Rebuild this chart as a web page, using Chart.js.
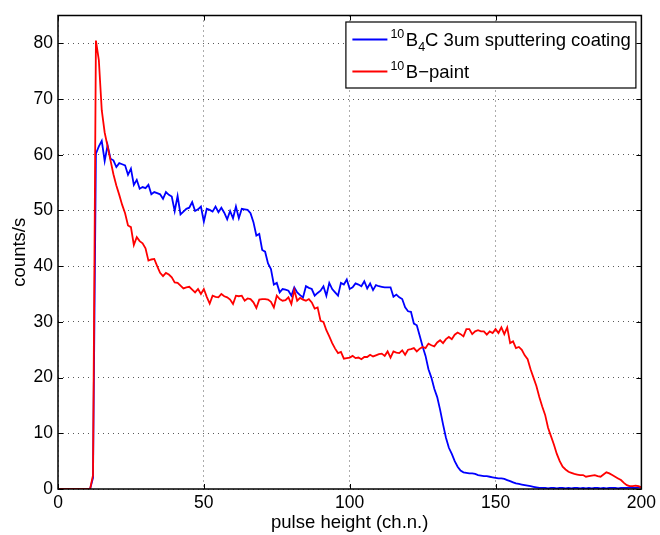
<!DOCTYPE html>
<html>
<head>
<meta charset="utf-8">
<script src="https://cdn.jsdelivr.net/npm/chart.js@4.4.1/dist/chart.umd.min.js"></script>
<style>
  html, body { margin: 0; padding: 0; background: #fff; }
  #wrap { width: 660px; height: 535px; }
</style>
</head>
<body>
<div id="wrap"><canvas id="spectrum" width="660" height="535"></canvas></div>
<script>
const FONT = '"Liberation Sans", Arial, Helvetica, sans-serif';

// MCA channel numbers (pulse height)
const channels = Array.from({ length: 201 }, (_, i) => i);

// counts/s per channel - 10B4C 3um sputtered coating
const b4cCounts = [
  0, 0, 0, 0, 0, 0, 0, 0, 0, 0,
  0, 0, 2, 60.2, 61.5, 62.5, 58.9, 61.7, 59.3, 59,
  57.8, 58.5, 58.3, 58.1, 56.4, 57.5, 54.6, 55.5, 53.9, 54.2,
  54, 54.6, 52.9, 53.3, 53.1, 52.9, 52.1, 53.3, 52.8, 52.5,
  49.9, 52.6, 49.3, 49.8, 50.3, 50.5, 51.5, 49.9, 50.2, 50.7,
  48, 50.3, 50.1, 49.8, 50.7, 49.7, 50.5, 49.6, 48.4, 49.9,
  48.6, 50.7, 48.6, 50.3, 50.2, 50.1, 49.5, 47.9, 45.5, 45.8,
  42.9, 42.6, 40.5, 39.5, 36.7, 37, 35.3, 35.9, 35.8, 35.6,
  34.7, 36.2, 35.3, 34.8, 34.4, 36.4, 36.1, 35.9, 34.7, 35.2,
  35.6, 36.4, 34.7, 37, 35.9, 35.3, 34.7, 37, 36.7, 37.6,
  35.9, 36.2, 36.9, 36.7, 36.4, 37.3, 36, 36.9, 35.7, 36.6,
  36.4, 36.3, 36.2, 36.2, 36.2, 34.5, 34.9, 34.4, 34.1, 32.6,
  31.9, 31.8, 29.7, 29.4, 27.5, 25.6, 23.9, 21.5, 20, 18,
  16.5, 14.2, 11.6, 9.2, 7.4, 6.3, 5.0, 4.0, 3.3, 3.0,
  2.9, 2.8, 2.8, 2.7, 2.5, 2.4, 2.3, 2.3, 2.2, 2.1,
  2.0, 1.9, 1.9, 1.8, 1.6, 1.4, 1.2, 1.0, 0.9, 0.8,
  0.7, 0.6, 0.5, 0.4, 0.3, 0.2, 0.2, 0.2, 0.1, 0.2,
  0.2, 0.1, 0.2, 0.2, 0.1, 0.2, 0.1, 0.2, 0.2, 0.1,
  0.2, 0.1, 0.2, 0.1, 0.2, 0.2, 0.1, 0.2, 0.1, 0.2,
  0.2, 0.2, 0.1, 0.2, 0.2, 0.2, 0.3, 0.2, 0.2, 0.3,
  0.3
];

// counts/s per channel - 10B paint
const paintCounts = [
  0, 0, 0, 0, 0, 0, 0, 0, 0, 0,
  0, 0, 2.5, 80.5, 77, 68, 64, 61.5, 59, 56.5,
  54.5, 52.8, 51, 49.5, 47.3, 47, 43.8, 45.2, 44.5, 44.1,
  43.2, 41, 41.2, 41.3, 40, 38.8, 38.2, 38.8, 38.5, 38,
  37.1, 37, 36.5, 36, 36.2, 36.3, 35.8, 35.3, 35.9, 35,
  35.9, 34.5, 33.3, 34.7, 34.5, 34.4, 35, 34.6, 34.4, 34,
  33.2, 34.7, 34.6, 34.7, 33.8, 34.2, 34.1, 33.5, 32.5, 34,
  34.1, 34.1, 34, 33.6, 32.6, 34.7, 34.1, 33.8, 33.9, 34.4,
  33.2, 35.7, 33.8, 34.3, 34, 33.8, 34.1, 33.5, 32.4, 32.6,
  30.2, 30, 28.5, 27.4, 26.2, 25.2, 24.4, 24.6, 23.4, 23.5,
  23.6, 23.9, 23.5, 23.6, 23.3, 23.7, 23.7, 24.1, 23.8, 24,
  24.2, 24.3, 23.9, 24.7, 23.6, 24.7, 24.5, 24.4, 24.9, 24.1,
  25, 25.1, 25.3, 24.7, 25.2, 25.5, 25.3, 26.1, 25.8, 25.6,
  26.3, 26.7, 26.2, 26.9, 27.3, 26.9, 27.7, 28.1, 27.8, 27.4,
  28.7, 28.7, 27.8, 28.3, 28.5, 28.3, 28.3, 27.7, 28.3, 28,
  28.7, 28, 29, 27.8, 29, 26.2, 26.5, 25.3, 25.5, 25,
  24, 23.3, 21.5, 20, 18.5, 16.5, 14.8, 13.3, 11, 9.5,
  8, 6.3, 5, 4, 3.5, 3.1, 2.9, 2.7, 2.6, 2.5,
  2.5, 2.2, 2.3, 2.4, 2.5, 2.3, 2.2, 2.6, 3.0, 2.8,
  2.5, 2.2, 1.9, 1.6, 1.1, 0.7, 0.5, 0.5, 0.6, 0.5,
  0.3
];

const xTicks = [0, 50, 100, 150, 200];
const yTicks = [0, 10, 20, 30, 40, 50, 60, 70, 80];

const seriesNames = ['10B4C 3um sputtering coating', '10B-paint'];
// legend labels split into pieces; 'sup' is raised, 'sub' is lowered
const legendParts = [
  [{ t: '10', s: 'sup' }, { t: 'B' }, { t: '4', s: 'sub' }, { t: 'C 3um sputtering coating' }],
  [{ t: '10', s: 'sup' }, { t: 'B\u2212paint' }],
];

const TICK = 5;

// box round the axes plus inward tick marks on all four sides
const framePlugin = {
  id: 'frame',
  afterDatasetsDraw(chart) {
    const { ctx, chartArea: a, scales: { x, y } } = chart;
    ctx.save();
    ctx.strokeStyle = '#000';
    ctx.lineWidth = 1;
    ctx.beginPath();
    x.ticks.forEach(t => {
      const px = Math.round(x.getPixelForValue(t.value)) + 0.5;
      ctx.moveTo(px, a.bottom); ctx.lineTo(px, a.bottom - TICK);
      ctx.moveTo(px, a.top); ctx.lineTo(px, a.top + TICK);
    });
    y.ticks.forEach(t => {
      const py = Math.round(y.getPixelForValue(t.value)) + 0.5;
      ctx.moveTo(a.left, py); ctx.lineTo(a.left + TICK, py);
      ctx.moveTo(a.right, py); ctx.lineTo(a.right - TICK, py);
    });
    ctx.stroke();
    ctx.lineWidth = 1.5;
    ctx.strokeRect(a.left, a.top, a.right - a.left, a.bottom - a.top);
    ctx.restore();
  }
};

// legend with super/subscripts, top right inside the axes
const legendPlugin = {
  id: 'richLegend',
  afterDraw(chart) {
    const { ctx, chartArea: a } = chart;
    const w = 290, h = 66;
    const left = a.right - 6 - w, top = a.top + 6;
    ctx.save();
    ctx.fillStyle = '#fff';
    ctx.fillRect(left, top, w, h);
    ctx.strokeStyle = '#000';
    ctx.lineWidth = 1.2;
    ctx.strokeRect(left + 0.5, top + 0.5, w, h);

    chart.data.datasets.forEach((ds, i) => {
      const cy = top + 18 + i * 32;
      ctx.strokeStyle = ds.borderColor;
      ctx.lineWidth = 1.8;
      ctx.beginPath();
      ctx.moveTo(left + 7, cy);
      ctx.lineTo(left + 42, cy);
      ctx.stroke();

      let tx = left + 45;
      const base = cy + 6.5;
      ctx.fillStyle = '#000';
      ctx.textBaseline = 'alphabetic';
      legendParts[i].forEach(p => {
        let dy = 0;
        if (p.s === 'sup') { ctx.font = `12.5px ${FONT}`; dy = -8; }
        else if (p.s === 'sub') { ctx.font = `12.5px ${FONT}`; dy = 5; }
        else { ctx.font = `18.5px ${FONT}`; }
        ctx.fillText(p.t, tx, base + dy);
        tx += ctx.measureText(p.t).width + (p.s === 'sup' ? 1.5 : 0);
      });
    });
    ctx.restore();
  }
};

const toPoints = vals => channels.map((c, i) => ({ x: c, y: vals[i] }));

new Chart(document.getElementById('spectrum'), {
  type: 'line',
  data: {
    datasets: [
      {
        label: seriesNames[0],
        data: toPoints(b4cCounts),
        borderColor: '#0000ff',
        borderWidth: 1.8,
        pointRadius: 0,
        tension: 0,
        order: 2,
      },
      {
        label: seriesNames[1],
        data: toPoints(paintCounts),
        borderColor: '#ff0000',
        borderWidth: 1.8,
        pointRadius: 0,
        tension: 0,
        order: 1,
      },
    ],
  },
  options: {
    responsive: false,
    animation: false,
    events: [],
    layout: { padding: { left: 0, right: 16, top: 6, bottom: 0 } },
    plugins: {
      legend: { display: false },
      tooltip: { enabled: false },
    },
    scales: {
      x: {
        type: 'linear',
        min: 0,
        max: 200,
        afterBuildTicks: s => { s.ticks = xTicks.map(v => ({ value: v })); },
        afterFit: s => { s.height = 46; },
        grid: { color: 'rgba(0,0,0,0.65)', lineWidth: 1, drawTicks: false },
        border: { display: false, dash: [1, 4] },
        ticks: { color: '#000', padding: 4, maxRotation: 0, font: { family: FONT, size: 17.5 } },
        title: {
          display: true,
          text: 'pulse height (ch.n.)',
          color: '#000',
          padding: { top: 0, bottom: 1 },
          font: { family: FONT, size: 18.5 },
        },
      },
      y: {
        type: 'linear',
        min: 0,
        max: 85,
        afterBuildTicks: s => { s.ticks = yTicks.map(v => ({ value: v })); },
        afterFit: s => { s.width = 58; },
        grid: { color: 'rgba(0,0,0,0.65)', lineWidth: 1, drawTicks: false },
        border: { display: false, dash: [1, 4] },
        ticks: { color: '#000', padding: 5, font: { family: FONT, size: 17.5 } },
        title: {
          display: true,
          text: 'counts/s',
          color: '#000',
          padding: { top: 9, bottom: 0 },
          font: { family: FONT, size: 18.5 },
        },
      },
    },
  },
  plugins: [framePlugin, legendPlugin],
});
</script>
</body>
</html>
